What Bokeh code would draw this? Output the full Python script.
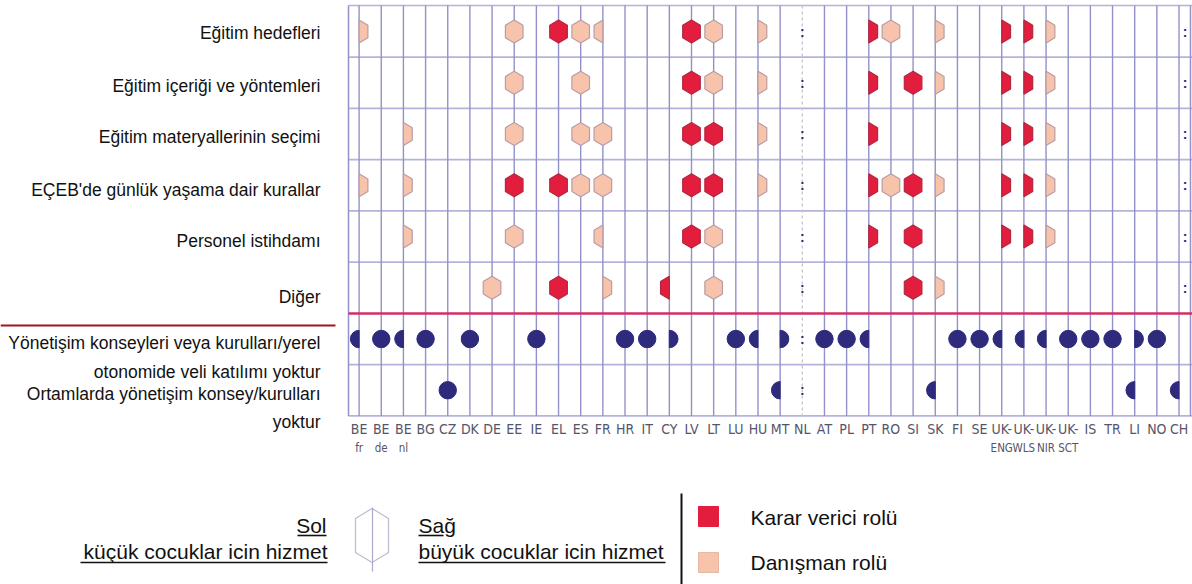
import math
from bokeh.plotting import figure
from bokeh.models import Range1d, ColumnDataSource
from bokeh.core.properties import value
from bokeh.embed import file_html
from bokeh.resources import INLINE

# ---------------- data ----------------
countries = ["BE fr", "BE de", "BE nl", "BG", "CZ", "DK", "DE", "EE", "IE", "EL", "ES", "FR",
             "HR", "IT", "CY", "LV", "LT", "LU", "HU", "MT", "NL", "AT", "PL", "PT", "RO", "SI",
             "SK", "FI", "SE", "UK-ENG", "UK-WLS", "UK-NIR", "UK-SCT", "IS", "TR", "LI", "NO", "CH"]
country_labels = ["BE\nfr", "BE\nde", "BE\nnl", "BG", "CZ", "DK", "DE", "EE", "IE", "EL", "ES", "FR",
                  "HR", "IT", "CY", "LV", "LT", "LU", "HU", "MT", "NL", "AT", "PL", "PT", "RO", "SI",
                  "SK", "FI", "SE", "UK-\nENG", "UK-\nWLS", "UK-\nNIR", "UK-\nSCT", "IS", "TR", "LI", "NO", "CH"]

topic_labels = ["Eğitim hedefleri", "Eğitim içeriği ve yöntemleri", "Eğitim materyallerinin seçimi",
                "EÇEB'de günlük yaşama dair kurallar", "Personel istihdamı", "Diğer"]
governance_labels = ["Yönetişim konseyleri veya kurulları/yerel\notonomide veli katılımı yoktur",
                     "Ortamlarda yönetişim konsey/kurulları\nyoktur"]

# role codes: 1st char = settings for younger children (left half), 2nd = older children (right half)
# D = decision-making role, A = advisory role, - = none, : = not available
goals = {"BE fr": "-A", "EE": "AA", "EL": "DD", "ES": "AA", "FR": "A-", "LV": "DD", "LT": "AA",
         "HU": "-A", "NL": "::", "PT": "-D", "RO": "AA", "SK": "-A", "UK-ENG": "-D", "UK-WLS": "-D",
         "UK-NIR": "-A", "CH": "-:"}
content = {"EE": "AA", "ES": "AA", "LV": "DD", "LT": "AA", "HU": "-A", "NL": "::", "PT": "-D",
           "SI": "DD", "SK": "-A", "UK-ENG": "-D", "UK-WLS": "-D", "UK-NIR": "-A", "CH": "-:"}
materials = {"BE nl": "-A", "EE": "AA", "ES": "AA", "FR": "AA", "LV": "DD", "LT": "DD", "HU": "-A",
             "NL": "::", "PT": "-D", "UK-ENG": "-D", "UK-WLS": "-D", "UK-NIR": "-A", "CH": "-:"}
daily_rules = {"BE fr": "-A", "BE nl": "-A", "EE": "DD", "EL": "DD", "ES": "AA", "FR": "AA",
               "LV": "DD", "LT": "DD", "HU": "-A", "NL": "::", "PT": "-D", "RO": "AA", "SI": "DD",
               "SK": "-A", "UK-ENG": "-D", "UK-WLS": "-D", "UK-NIR": "-A", "CH": "-:"}
staff = {"BE nl": "-A", "EE": "AA", "FR": "A-", "LV": "DD", "LT": "AA", "NL": "::", "PT": "-D",
         "SI": "DD", "UK-ENG": "-D", "UK-WLS": "-D", "UK-NIR": "-A", "CH": "-:"}
other = {"DE": "AA", "EL": "DD", "FR": "-A", "CY": "D-", "LT": "AA", "NL": "::", "SI": "DD",
         "SK": "-A", "CH": "-:"}
topic_roles = [goals, content, materials, daily_rules, staff, other]

# governance rows: x = applies (left half younger / right half older), : = not available
no_parent_participation = {"BE fr": "x-", "BE de": "xx", "BE nl": "x-", "BG": "xx", "DK": "xx",
                           "IE": "xx", "HR": "xx", "IT": "xx", "CY": "-x", "LU": "xx", "HU": "x-",
                           "MT": "-x", "NL": "::", "AT": "xx", "PL": "xx", "PT": "x-", "FI": "xx",
                           "SE": "xx", "UK-ENG": "x-", "UK-WLS": "x-", "UK-NIR": "x-", "UK-SCT": "xx",
                           "IS": "xx", "TR": "xx", "LI": "-x", "NO": "xx"}
no_councils = {"CZ": "xx", "MT": "x-", "NL": "::", "SK": "x-", "LI": "x-", "CH": "x-"}
governance_roles = [no_parent_participation, no_councils]

legend_roles = ["Karar verici rolü", "Danışman rolü"]

# ---------------- layout / style ----------------
W, H = 1192, 584
SX, SY = 22.16, 51.25          # pixels per column / per row
X0, Y0 = -358.6 / SX, -31 / SY  # data value at the canvas left / top edge


def dx(px):
    return X0 + px / SX


def dy(py):
    return Y0 + py / SY


FONT = value("Liberation Sans")
NARROW = value("Liberation Sans Narrow, DejaVu Sans Condensed, sans-serif")
RED, RED_LINE = "#e21d3d", "#b3283f"
PINK, PINK_LINE = "#f8c3ab", "#b89ca6"
NAVY = "#2e2a7c"
GRID_V, GRID_H = "#9391c9", "#b4b3dc"

p = figure(width=W, height=H, x_range=Range1d(X0, X0 + W / SX), y_range=Range1d(Y0 + H / SY, Y0),
           output_backend="svg", toolbar_location=None, x_axis_type=None, y_axis_type=None,
           min_border=0, outline_line_color=None, background_fill_color="white",
           border_fill_color="white")

ncol = len(countries)
ntopic = len(topic_labels)
nrows = ntopic + len(governance_labels)
cols = list(range(ncol))
nl = countries.index("NL")
grid_top = dy(5)
grid_bottom = nrows - 0.5
grid_left = dx(348)
grid_right = dx(1190)

# horizontal grid lines
h_rows = [grid_top] + [r + 0.5 for r in range(ntopic - 1)] + [r + 0.5 for r in range(ntopic, nrows)]
p.segment(x0=[grid_left] * len(h_rows), y0=h_rows, x1=[dx(1192)] * len(h_rows), y1=h_rows,
          line_color=GRID_H, line_width=1.6)
# vertical grid lines
vc = [c for c in cols if c != nl]
p.segment(x0=vc, y0=[grid_top] * len(vc), x1=vc, y1=[grid_bottom] * len(vc),
          line_color=GRID_V, line_width=1.4)
p.segment(x0=[nl], y0=[grid_top], x1=[nl], y1=[grid_bottom], line_color="#c4c4cc",
          line_width=1.3, line_dash="3 3")
p.segment(x0=[grid_left, grid_right], y0=[grid_top] * 2, x1=[grid_left, grid_right],
          y1=[grid_bottom] * 2, line_color=GRID_V, line_width=1.5)
# red separator between topic rows and governance rows
p.segment(x0=[grid_left], y0=[ntopic - 0.5], x1=[dx(1192)], y1=[ntopic - 0.5],
          line_color="#d42e64", line_width=2.5)
p.segment(x0=[dx(0)], y0=[ntopic - 0.5 + 12 / SY], x1=[dx(335)], y1=[ntopic - 0.5 + 12 / SY],
          line_color="#9e1424", line_width=2)

# hexagons
hw, ht, hs = 8.8 / SX, 11.5 / SY, 6.3 / SY
hx, hy, hf, hl = [], [], [], []
na_x, na_y = [], []
for r, roles in enumerate(topic_roles):
    for name, code in roles.items():
        c = countries.index(name)
        left, right = code[0], code[1]
        if left == ":" and right == ":":
            na_x.append(c); na_y.append(r)
            continue
        if right == ":":
            na_x.append(c + 0.27); na_y.append(r)
        if left == ":":
            na_x.append(c - 0.27); na_y.append(r)
        if left == right and left in "AD":
            hx.append([c, c + hw, c + hw, c, c - hw, c - hw])
            hy.append([r - ht, r - hs, r + hs, r + ht, r + hs, r - hs])
            hf.append(RED if left == "D" else PINK)
            hl.append(RED_LINE if left == "D" else PINK_LINE)
            continue
        for side, role in ((-1, left), (1, right)):
            if role in "AD":
                hx.append([c, c + side * hw, c + side * hw, c])
                hy.append([r - ht, r - hs, r + hs, r + ht])
                hf.append(RED if role == "D" else PINK)
                hl.append(RED_LINE if role == "D" else PINK_LINE)
p.patches(xs="xs", ys="ys", fill_color="fill", line_color="line", line_width=1.2,
          source=ColumnDataSource(dict(xs=hx, ys=hy, fill=hf, line=hl)))

# governance dots
rad = 8.7 / SX
fx, fy, lx, ly, rx, ry = [], [], [], [], [], []
for k, roles in enumerate(governance_roles):
    r = ntopic + k
    for name, code in roles.items():
        c = countries.index(name)
        if code == "::":
            na_x.append(c); na_y.append(r)
        elif code == "xx":
            fx.append(c); fy.append(r)
        elif code == "x-":
            lx.append(c); ly.append(r)
        elif code == "-x":
            rx.append(c); ry.append(r)
p.circle(x=fx, y=fy, radius=rad, fill_color=NAVY, line_color=NAVY)
p.wedge(x=lx, y=ly, radius=rad, start_angle=math.pi / 2, end_angle=3 * math.pi / 2,
        fill_color=NAVY, line_color=NAVY)
p.wedge(x=rx, y=ry, radius=rad, start_angle=-math.pi / 2, end_angle=math.pi / 2,
        fill_color=NAVY, line_color=NAVY)

# not-available markers
p.text(x=na_x, y=na_y, text=[":"] * len(na_x), text_align="center", text_baseline="middle",
       text_font=FONT, text_font_size="14px", text_font_style="bold", text_color=NAVY)

# country labels (two lines, second line smaller to fit the narrow columns)
first = [s.split("\n")[0] for s in country_labels]
second_idx = [i for i, s in enumerate(country_labels) if "\n" in s]
second = [country_labels[i].split("\n")[1] for i in second_idx]
p.text(x=cols, y=[dy(428)] * ncol, text=first, text_align="center", text_baseline="middle",
       text_font=NARROW, text_font_size="14px", text_color="#55556a")
p.text(x=second_idx, y=[dy(447)] * len(second_idx), text=second, text_align="center",
       text_baseline="middle", text_font=NARROW, text_font_size="11.5px", text_color="#55556a")

# row labels
topic_offsets = [0.02, 0.07, 0.06, 0.09, 0.09, 0.18]
p.text(x=[dx(320)] * ntopic, y=[r + o for r, o in zip(range(ntopic), topic_offsets)],
       text=topic_labels, text_align="right", text_baseline="middle", text_font=FONT,
       text_font_size="17.5px", text_color="#111111")
p.text(x=[dx(320)] * len(governance_labels), y=[ntopic + 0.36, ntopic + 1.35],
       text=governance_labels, text_align="right", text_baseline="middle", text_font=FONT,
       text_font_size="17.5px", text_color="#111111", text_line_height=1.42)

# ---------------- legend ----------------
LF = "21px"
p.text(x=[dx(326), dx(327)], y=[dy(525), dy(551)], text=["Sol", "küçük cocuklar icin hizmet"],
       text_align="right", text_baseline="middle", text_font=FONT, text_font_size=LF,
       text_color="#111111")
p.text(x=[dx(418), dx(418)], y=[dy(525), dy(551)], text=["Sağ", "büyük cocuklar icin hizmet"],
       text_align="left", text_baseline="middle", text_font=FONT, text_font_size=LF,
       text_color="#111111")
ul = [(297, 326, 535), (80, 327, 562), (418, 443, 535), (418, 665, 562)]
p.segment(x0=[dx(a) for a, b, c in ul], y0=[dy(c) for a, b, c in ul],
          x1=[dx(b) for a, b, c in ul], y1=[dy(c) for a, b, c in ul],
          line_color="#111111", line_width=1.6)
lcx, lcy = 371.5, 535
lhw, lht, lhs = 16.5, 27, 17
p.patch(x=[dx(lcx), dx(lcx + lhw), dx(lcx + lhw), dx(lcx), dx(lcx - lhw), dx(lcx - lhw)],
        y=[dy(lcy - lht), dy(lcy - lhs), dy(lcy + lhs), dy(lcy + lht), dy(lcy + lhs), dy(lcy - lhs)],
        fill_color=None, line_color="#bdbdcf", line_width=1.3)
p.segment(x0=[dx(372)], y0=[dy(507)], x1=[dx(372)], y1=[dy(571)], line_color="#a9a8cf",
          line_width=1.2)
p.segment(x0=[dx(681)], y0=[dy(493)], x1=[dx(681)], y1=[dy(584)], line_color="#111111",
          line_width=2)
p.scatter(x=[dx(708), dx(708)], y=[dy(516), dy(562)], marker="square", size=20,
          fill_color=[RED, PINK], line_color=[RED, "#e8b8a6"])
p.text(x=[dx(750), dx(750)], y=[dy(517), dy(562)], text=legend_roles, text_align="left",
       text_baseline="middle", text_font=FONT, text_font_size=LF, text_color="#111111")

open("out.html", "w").write(file_html(p, INLINE))
